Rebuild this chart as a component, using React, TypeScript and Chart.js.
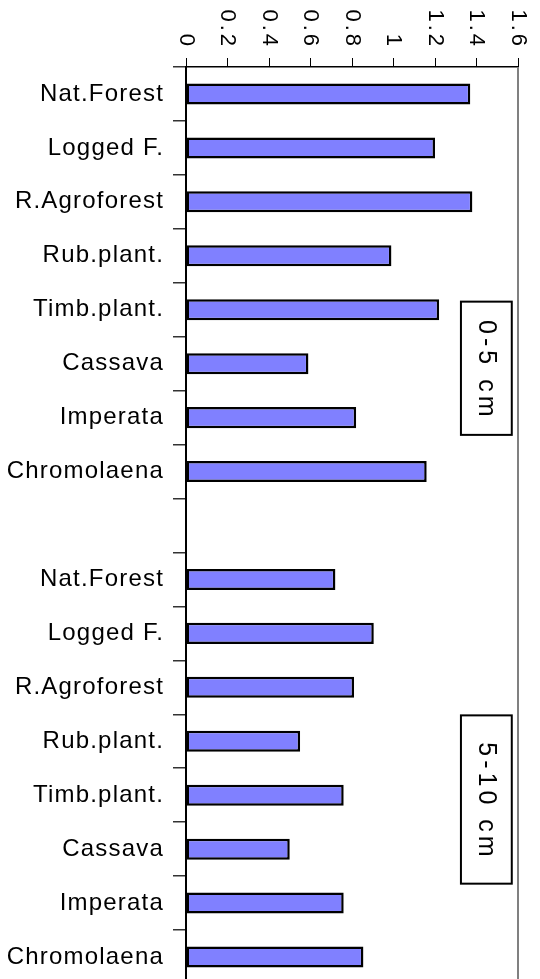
import React, { useEffect, useRef } from 'react';
import { Chart, registerables } from 'chart.js';

Chart.register(...registerables);

// ---- data ----
const landUses = ['Nat.Forest', 'Logged F.', 'R.Agroforest', 'Rub.plant.', 'Timb.plant.', 'Cassava', 'Imperata', 'Chromolaena'];
const depth0to5 = [1.37, 1.2, 1.38, 0.99, 1.22, 0.59, 0.82, 1.16];
const depth5to10 = [0.72, 0.905, 0.81, 0.55, 0.76, 0.5, 0.76, 0.855];
const xTickValues = [0, 0.2, 0.4, 0.6, 0.8, 1, 1.2, 1.4, 1.6];
const xTickLabels = ['0', '0.2', '0.4', '0.6', '0.8', '1', '1.2', '1.4', '1.6'];
const boxLabels = ['0-5 cm', '5-10 cm'];
const boxFromIndex = [3.85, 11.52];
const boxToIndex = [6.32, 14.64];
const boxFromValue = 1.325;
const boxToValue = 1.57;

const categories = [...landUses, '', ...landUses];
const values: (number | null)[] = [...depth0to5, null, ...depth5to10];

const FONT = '"Liberation Sans", Arial, Helvetica, sans-serif';

const overlayPlugin = {
  id: 'overlay',
  beforeDraw(chart: any) {
    (chart.ctx as any).letterSpacing = '1.2px';
  },
  afterDraw(chart: any) {
    const { ctx, chartArea, scales } = chart;
    const x = scales.x;
    const y = scales.y;
    ctx.save();
    // right frame line
    ctx.strokeStyle = '#808080';
    ctx.lineWidth = 2;
    ctx.beginPath();
    ctx.moveTo(chartArea.right, chartArea.top);
    ctx.lineTo(chartArea.right, chartArea.bottom);
    ctx.stroke();

    // rotated top tick labels
    ctx.fillStyle = '#000';
    ctx.font = `22px ${FONT}`;
    (ctx as any).letterSpacing = '3px';
    xTickValues.forEach((v, i) => {
      const px = x.getPixelForValue(v);
      ctx.save();
      ctx.translate(px, chartArea.top - 18);
      ctx.rotate(Math.PI / 2);
      ctx.textAlign = 'right';
      ctx.textBaseline = 'middle';
      ctx.fillText(xTickLabels[i], 0, 0);
      ctx.restore();
    });

    // depth boxes
    boxLabels.forEach((label, i) => {
      const x0 = x.getPixelForValue(boxFromValue);
      const x1 = x.getPixelForValue(boxToValue);
      const y0 = y.getPixelForValue(boxFromIndex[i]);
      const y1 = y.getPixelForValue(boxToIndex[i]);
      ctx.fillStyle = '#fff';
      ctx.fillRect(x0, y0, x1 - x0, y1 - y0);
      ctx.strokeStyle = '#000';
      ctx.lineWidth = 2;
      ctx.strokeRect(x0, y0, x1 - x0, y1 - y0);
      ctx.save();
      ctx.translate((x0 + x1) / 2, (y0 + y1) / 2);
      ctx.rotate(Math.PI / 2);
      ctx.fillStyle = '#000';
      ctx.font = `25px ${FONT}`;
      (ctx as any).letterSpacing = '4px';
      ctx.textAlign = 'center';
      ctx.textBaseline = 'middle';
      ctx.fillText(label, 2, 0);
      ctx.restore();
    });
    ctx.restore();
    (ctx as any).letterSpacing = '0px';
  },
};

export default function App() {
  const canvasRef = useRef<HTMLCanvasElement | null>(null);

  useEffect(() => {
    document.body.style.margin = '0';
    const canvas = canvasRef.current;
    if (!canvas) return;
    const chart = new Chart(canvas, {
      type: 'bar',
      data: {
        labels: categories,
        datasets: [
          {
            data: values as any,
            backgroundColor: '#8080FF',
            borderColor: '#000',
            borderWidth: 2.5,
            borderSkipped: false,
            barPercentage: 0.39,
            categoryPercentage: 1,
          },
        ],
      },
      options: {
        indexAxis: 'y',
        animation: false,
        responsive: false,
        maintainAspectRatio: false,
        devicePixelRatio: 1,
        layout: { padding: { top: 0, right: 22, bottom: 6, left: 0 } },
        plugins: {
          legend: { display: false },
          tooltip: { enabled: false },
        },
        scales: {
          x: {
            type: 'linear',
            position: 'top',
            min: 0,
            max: 1.6,
            ticks: { stepSize: 0.2, display: false },
            grid: { drawOnChartArea: false, drawTicks: true, tickLength: 9, color: '#000', lineWidth: 1 },
            border: { color: '#000', width: 1.5 },
            afterFit: (s: any) => {
              s.height = 67;
              s.paddingLeft = 0;
              s.paddingRight = 0;
            },
          },
          y: {
            type: 'category',
            position: 'left',
            ticks: {
              autoSkip: false,
              color: '#000',
              padding: 9,
              font: { family: FONT, size: 24 },
            },
            grid: { offset: true, drawOnChartArea: false, drawTicks: true, tickLength: 13, color: '#333', lineWidth: 1.5 },
            border: { color: '#000', width: 2 },
            afterFit: (s: any) => {
              s.width = 186;
              s.paddingTop = 0;
              s.paddingBottom = 0;
            },
          },
        },
      },
      plugins: [overlayPlugin],
    });
    return () => chart.destroy();
  }, []);

  return (
    <div style={{ position: 'fixed', left: 0, top: 0, width: 540, height: 979, overflow: 'hidden', background: '#fff' }}>
      <canvas ref={canvasRef} width={540} height={990} style={{ display: 'block' }} />
    </div>
  );
}
